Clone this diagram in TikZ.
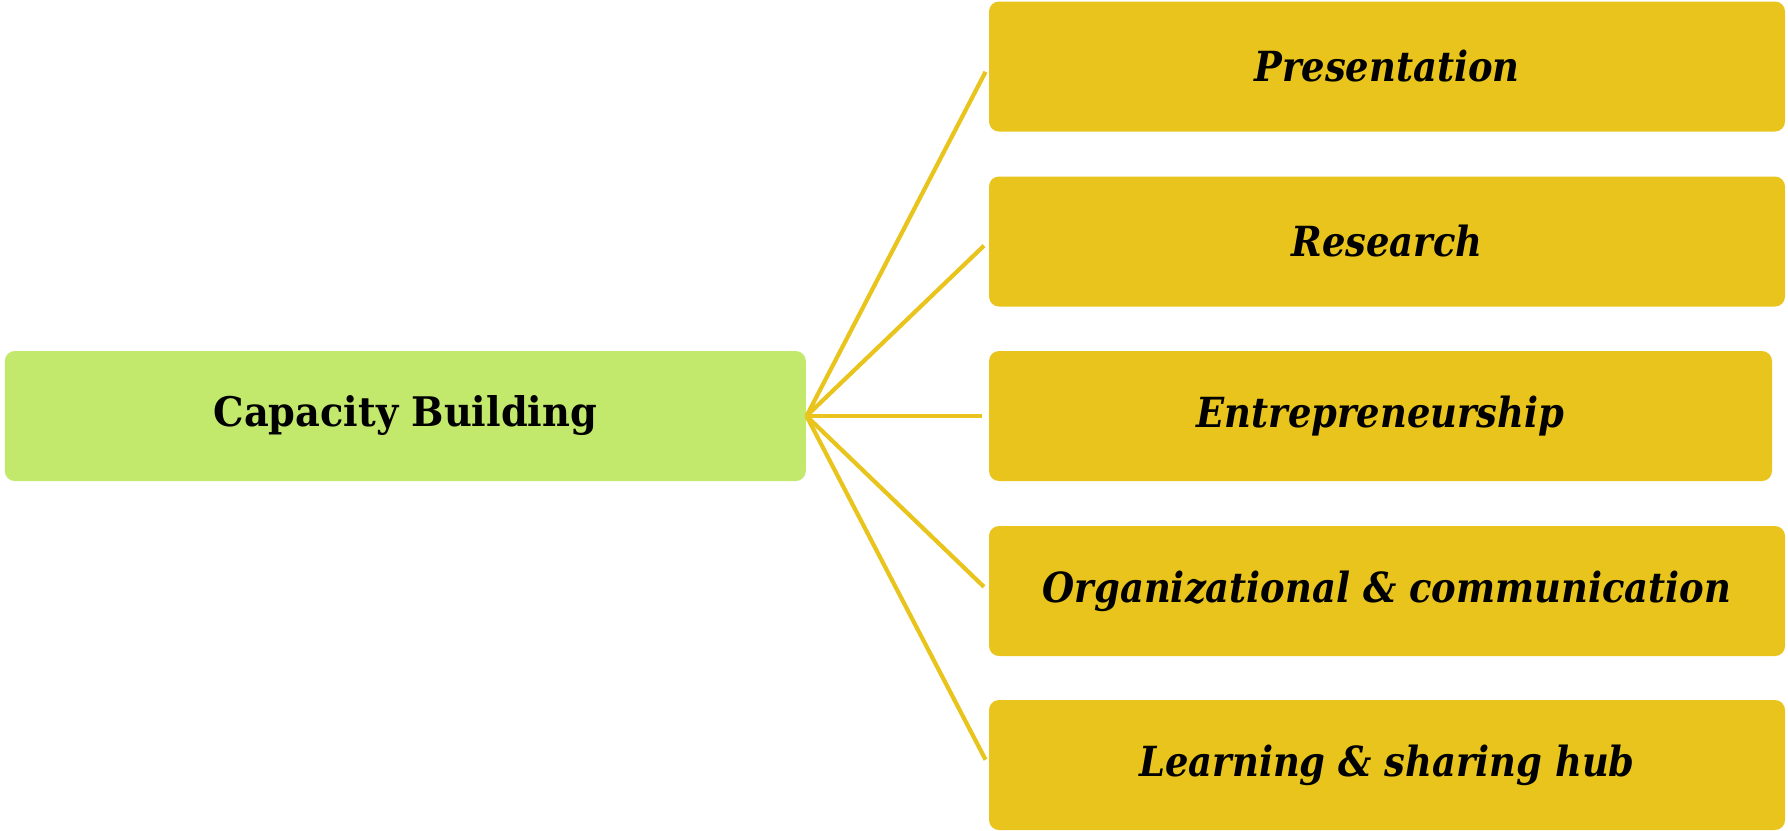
\documentclass[tikz,border=0pt]{standalone}
\usepackage{fontspec}
\usepackage{tikz}
\usepackage{xcolor}
\usetikzlibrary{shapes, positioning}
\setmainfont{DejaVu Serif}
\newfontfamily\rootfont{DejaVu Serif}[FakeStretch=0.94]
\newfontfamily\leaffont{DejaVu Serif}[FakeStretch=0.89]
\definecolor{gold}{HTML}{E8C41C}
\definecolor{lime}{HTML}{C2E86C}

\begin{document}
\begin{tikzpicture}[
        root/.style={fill=lime, rounded corners=0.1cm, minimum width=8.01cm, minimum height=1.3cm, inner sep=0pt, font=\rootfont\fontsize{11.6}{13}\selectfont\bfseries},
        leaf/.style={fill=gold, rounded corners=0.1cm, minimum width=7.96cm, minimum height=1.3cm, inner sep=0pt, font=\leaffont\fontsize{11.8}{13}\selectfont\bfseries\itshape},
        link/.style={draw=gold, line width=0.042cm, shorten >=0.06cm}
    ]
        \useasboundingbox (0, 0) rectangle (17.88, -8.30);
        \node[root] (b0) at (4.053, -4.16) {Capacity Building};
        \node[leaf] (b1) at (13.87, -0.665) {Presentation};
        \node[leaf] (b2) at (13.87, -2.415) {Research};
        \node[leaf, minimum width=7.83cm] (b3) at (13.805, -4.16) {Entrepreneurship};
        \node[leaf] (b4) at (13.87, -5.91) {Organizational \& communication};
        \node[leaf] (b5) at (13.87, -7.65) {Learning \& sharing hub};

        \draw[link] (b0.east) to (b1.west);
        \draw[link] (b0.east) to (b2.west);
        \draw[link] (b0.east) to (b3.west);
        \draw[link] (b0.east) to (b4.west);
        \draw[link] (b0.east) to (b5.west);
    \end{tikzpicture}
\end{document}
